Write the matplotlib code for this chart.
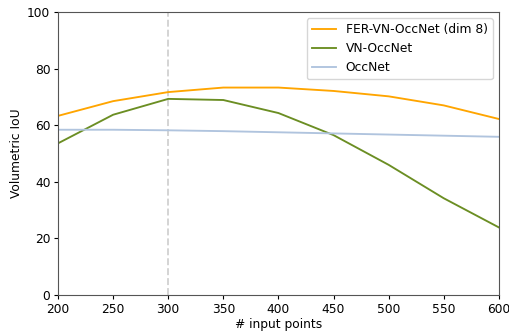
import matplotlib
matplotlib.use("Agg")
import matplotlib.pyplot as plt

points = [200, 250, 300, 350, 400, 450, 500, 550, 600]
fer_vn_occnet = [63.3, 68.5, 71.7, 73.3, 73.3, 72.1, 70.2, 67.0, 62.2]
vn_occnet = [53.6, 63.7, 69.3, 68.9, 64.3, 56.5, 46.0, 34.2, 23.9]
occnet = [58.4, 58.4, 58.2, 57.9, 57.5, 57.1, 56.7, 56.3, 55.9]

# reference looks like a downscaled figure, so shrink text and lines a bit
plt.rcParams["font.size"] = 8.8
plt.rcParams["lines.linewidth"] = 1.35
plt.rcParams["axes.linewidth"] = 0.8
plt.rcParams["axes.edgecolor"] = "#555555"
plt.rcParams["xtick.major.size"] = 3.0
plt.rcParams["ytick.major.size"] = 3.0
plt.rcParams["xtick.major.pad"] = 2.5
plt.rcParams["ytick.major.pad"] = 2.5

fig = plt.figure(figsize=(5.09, 3.33), dpi=100)
ax = fig.add_axes([0.114, 0.114, 0.866, 0.85])

ax.axvline(x=300, color="lightgray", linestyle="--")
ax.plot(points, fer_vn_occnet, color="orange", label="FER-VN-OccNet (dim 8)")
ax.plot(points, vn_occnet, color="olivedrab", label="VN-OccNet")
ax.plot(points, occnet, color="lightsteelblue", label="OccNet")

ax.set_xlim(200, 600)
ax.set_ylim(0, 100)
ax.set_xlabel("# input points", labelpad=2)
ax.set_ylabel("Volumetric IoU", labelpad=3)
ax.legend(loc="upper right")

fig.savefig("out.png", dpi=100)
